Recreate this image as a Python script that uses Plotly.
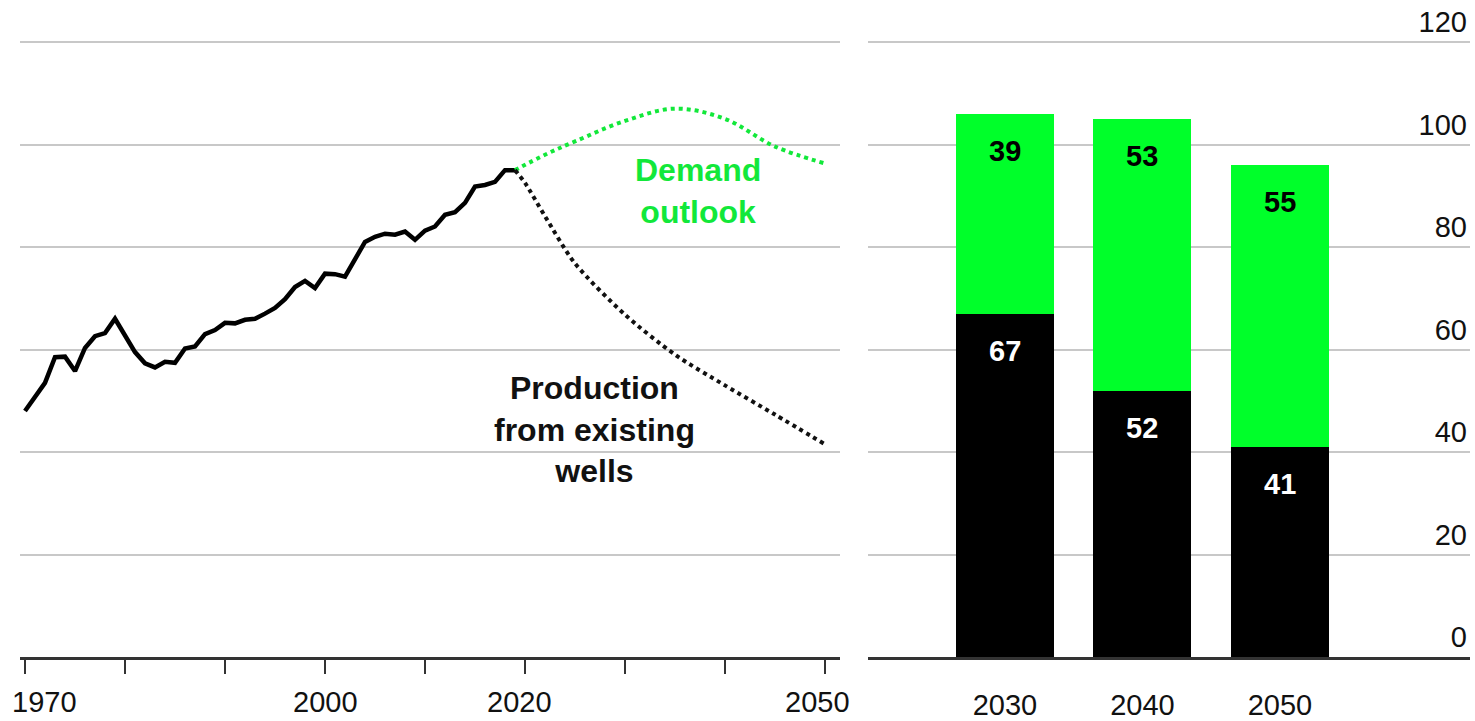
"""Oil output: history, outlook and decline of existing wells"""
import plotly.graph_objects as go

# historical world oil production, million barrels a day
hist_years = list(range(1970, 2020))
hist_values = [48.0, 50.8, 53.5, 58.5, 58.6, 55.8, 60.3, 62.6, 63.2, 66.0,
               62.8, 59.5, 57.3, 56.5, 57.6, 57.4, 60.2, 60.6, 63.0, 63.8,
               65.2, 65.1, 65.8, 66.0, 67.0, 68.1, 69.8, 72.2, 73.4, 72.0,
               74.8, 74.7, 74.2, 77.4, 81.0, 82.0, 82.6, 82.4, 83.0, 81.4,
               83.2, 84.0, 86.3, 86.8, 88.6, 91.8, 92.1, 92.7, 95.0, 95.0]

# demand outlook
demand_years = [2019, 2022, 2025, 2030, 2035, 2040, 2045, 2050]
demand_values = [95.0, 98.0, 100.6, 104.6, 107.0, 105.0, 99.6, 96.3]

# production from existing wells
decline_years = [2019, 2020, 2022, 2025, 2030, 2035, 2040, 2045, 2050]
decline_values = [95.0, 92.5, 86.0, 76.8, 66.8, 59.0, 53.0, 47.3, 41.5]

# stacked bars
bar_years = ["2030", "2040", "2050"]
existing_values = [67, 52, 41]
gap_values = [39, 53, 55]

x_label_years = [1970, 2000, 2020, 2050]
y_ticks = [0, 20, 40, 60, 80, 100, 120]

GREEN = "#00ff2a"
GREEN_LINE = "#12e83a"
GRID = "#c8c8c8"
AXIS = "#333333"
FONT = "Liberation Sans, Arial, sans-serif"
W, H = 1475, 721
Y_TOP = 128  # a bit of headroom so the "120" label fits inside

bar_pos = list(range(len(bar_years)))

fig = go.Figure()

fig.add_trace(go.Scatter(x=hist_years, y=hist_values, mode="lines",
                         line=dict(color="#000000", width=4.5),
                         xaxis="x", yaxis="y", showlegend=False))
fig.add_trace(go.Scatter(x=demand_years, y=demand_values, mode="lines",
                         line=dict(color=GREEN_LINE, width=4, dash="dot",
                                   shape="spline", smoothing=1.0),
                         xaxis="x", yaxis="y", showlegend=False))
fig.add_trace(go.Scatter(x=decline_years, y=decline_values, mode="lines",
                         line=dict(color="#111111", width=4, dash="dot",
                                   shape="spline", smoothing=0.8),
                         xaxis="x", yaxis="y", showlegend=False))

fig.add_trace(go.Bar(x=bar_pos, y=existing_values, marker_color="#000000",
                     marker_line_width=0, width=0.713,
                     xaxis="x2", yaxis="y2", showlegend=False))
fig.add_trace(go.Bar(x=bar_pos, y=gap_values, marker_color=GREEN,
                     marker_line_width=0, width=0.713,
                     xaxis="x2", yaxis="y2", showlegend=False))

annotations = []
# bar value labels
for pos, low, high in zip(bar_pos, existing_values, gap_values):
    annotations.append(dict(x=pos, y=low, xref="x2", yref="y2",
                            text=f"<b>{low}</b>", showarrow=False,
                            yanchor="middle", yshift=-37,
                            font=dict(family=FONT, size=29, color="#ffffff")))
    annotations.append(dict(x=pos, y=low + high, xref="x2", yref="y2",
                            text=f"<b>{high}</b>", showarrow=False,
                            yanchor="middle", yshift=-37,
                            font=dict(family=FONT, size=29, color="#000000")))

# left x labels, edge ones pulled inward
label_shift = {1970: ("left", -15), 2000: ("center", 0),
               2020: ("center", -6), 2050: ("right", 27)}
for yr in x_label_years:
    anchor, shift = label_shift[yr]
    annotations.append(dict(x=yr, y=0, xref="x", yref="y", text=str(yr),
                            showarrow=False, xanchor=anchor, xshift=shift,
                            yanchor="middle", yshift=-45,
                            font=dict(family=FONT, size=29, color="#111111")))

annotations.append(dict(x=2037.3, y=90.9, xref="x", yref="y",
                        text="<b>Demand<br>outlook</b>", showarrow=False,
                        yanchor="middle",
                        font=dict(family=FONT, size=32, color=GREEN_LINE)))
annotations.append(dict(x=2026.9, y=44.3, xref="x", yref="y",
                        text="<b>Production<br>from existing<br>wells</b>",
                        showarrow=False, yanchor="middle",
                        font=dict(family=FONT, size=32, color="#111111")))

fig.update_layout(
    width=W, height=H,
    margin=dict(l=0, r=0, t=1, b=64),
    paper_bgcolor="#ffffff", plot_bgcolor="#ffffff",
    barmode="stack",
    font=dict(family=FONT, size=29, color="#111111"),
    annotations=annotations,
    xaxis=dict(domain=[20 / W, 840 / W], range=[1969.5, 2051.5],
               tickvals=list(range(1970, 2051, 10)), showticklabels=False,
               ticks="outside", ticklen=14, tickwidth=2, tickcolor=AXIS,
               showgrid=False, zeroline=False,
               showline=True, linecolor=AXIS, linewidth=3),
    yaxis=dict(range=[0, Y_TOP], tickvals=y_ticks, showticklabels=False,
               showgrid=True, gridcolor=GRID, gridwidth=2, zeroline=False),
    xaxis2=dict(domain=[868 / W, 1470 / W], anchor="y2",
                range=[-0.996, 3.382], tickvals=bar_pos, ticktext=bar_years,
                ticks="", showgrid=False, zeroline=False,
                showline=True, linecolor=AXIS, linewidth=3,
                ticklabelstandoff=20,
                tickfont=dict(family=FONT, size=29, color="#111111")),
    yaxis2=dict(anchor="x2", side="right", range=[0, Y_TOP],
                tickvals=y_ticks, ticklabelposition="inside",
                ticklabelshift=-20, ticks="",
                showgrid=True, gridcolor=GRID, gridwidth=2, zeroline=False,
                tickfont=dict(family=FONT, size=29, color="#111111")),
)

# drop the browser's default body margin so the figure sits at 0,0
fig.write_html("out.html", config={"displayModeBar": False},
               post_script="document.body.style.margin='0';")
